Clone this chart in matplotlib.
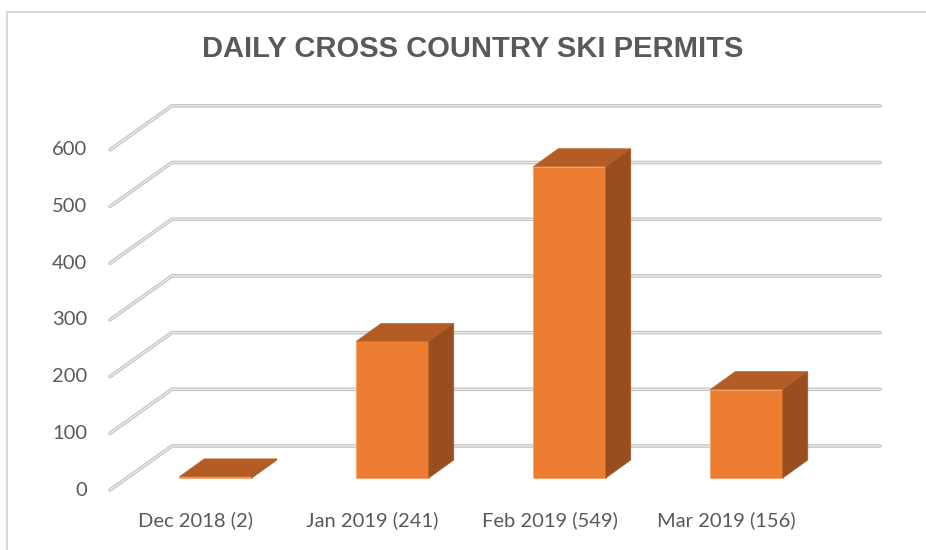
import matplotlib.pyplot as plt
from matplotlib.patches import Polygon, Rectangle

# data
months = ['Dec 2018 (2)', 'Jan 2019 (241)', 'Feb 2019 (549)', 'Mar 2019 (156)']
permits = [2, 241, 549, 156]
ticks = [0, 100, 200, 300, 400, 500, 600]

# 3D look: offsets in data units (x in categories, y in permits)
bar_w = 0.41
bar_dx, bar_dy = 0.141, 31.7        # depth of a bar
wall_dx, wall_dy = 0.254, 56.4      # bar front plane -> back wall
front_dx, front_dy = -0.096, -21.2  # bar front plane -> front edge of floor
x_right = 3.754

front_col = '#ED7D31'
top_col = '#B55B24'
side_col = '#984E1E'
text_col = '#595959'

fig = plt.figure(figsize=(9.26, 5.5), dpi=100)
ax = fig.add_axes([0, 0, 1, 1])
ax.set_xlim(-1.2175, 4.014)
ax.set_ylim(-127, 843)
ax.axis('off')

# gridlines: slanted on the side wall, then flat along the back wall
for t in ticks:
    xs = [-0.5 + front_dx, -0.5 + wall_dx, x_right]
    ys = [t + front_dy, t + wall_dy, t + wall_dy]
    ax.plot(xs, ys, color='#c4c4c4', lw=2.6, solid_capstyle='round', zorder=1)
    ax.plot(xs, ys, color='#e9e9e9', lw=1.0, solid_capstyle='round', zorder=1.1)
    ax.text(-0.5 + front_dx - 0.13, t + front_dy, str(t), ha='right', va='center',
            fontsize=14.5, color=text_col, family='Lato')

# bars
for i, v in enumerate(permits):
    x0 = i - bar_w / 2
    x1 = i + bar_w / 2
    ax.add_patch(Rectangle((x0, 0), bar_w, v, facecolor=front_col,
                           edgecolor='#f3a26a', lw=0.6, zorder=3))
    ax.add_patch(Polygon([(x0, v), (x1, v), (x1 + bar_dx, v + bar_dy), (x0 + bar_dx, v + bar_dy)],
                         closed=True, facecolor=top_col, edgecolor='#c06a30', lw=0.5, zorder=3))
    ax.add_patch(Polygon([(x1, 0), (x1, v), (x1 + bar_dx, v + bar_dy), (x1 + bar_dx, bar_dy)],
                         closed=True, facecolor=side_col, edgecolor='#a55a28', lw=0.5, zorder=3))
    ax.text(i + front_dx - 0.017, front_dy - 53, months[i], ha='center', va='center',
            fontsize=14.5, color=text_col, family='Lato')

# title
fig.text(0.511, 1 - 49 / 550, 'DAILY CROSS COUNTRY SKI PERMITS', ha='center', va='center',
         fontsize=21, fontweight='bold', color=text_col, family='Liberation Sans')

# chart border
fig.patches.append(Rectangle((6.5 / 926, -0.1), 1.2, 1.1 - 11.5 / 550, transform=fig.transFigure,
                             fill=False, edgecolor='#d9d9d9', lw=1.5))

fig.savefig('out.png', dpi=100)
